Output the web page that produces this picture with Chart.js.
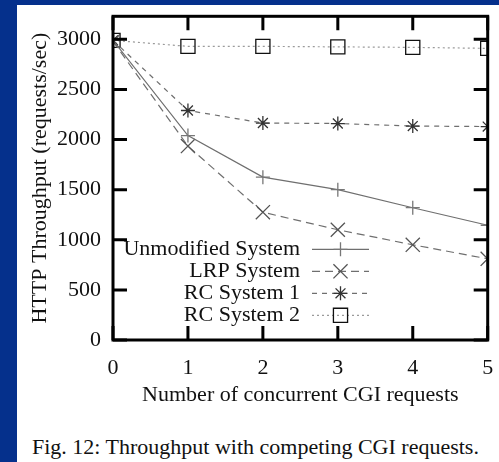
<!DOCTYPE html>
<html>
<head>
<meta charset="utf-8">
<script src="https://cdn.jsdelivr.net/npm/chart.js@4/dist/chart.umd.min.js"></script>
<style>
  body { margin: 0; width: 499px; height: 462px; background: #05308c; overflow: hidden; position: relative; }
  #panel { position: absolute; left: 17px; top: 5px; width: 482px; height: 457px; background: #fff; }
  #caption { position: absolute; left: 15px; top: 429px; font: 22px "Liberation Serif", serif; color: #111; white-space: nowrap; }
</style>
</head>
<body>
<div id="panel">
  <canvas id="chart" width="482" height="403"></canvas>
  <div id="caption">Fig. 12: Throughput with competing CGI requests.</div>
</div>
<script>
const cgiRequests = [0, 1, 2, 3, 4, 5];
const unmodified = [2990, 2040, 1625, 1500, 1320, 1145];
const lrp = [2980, 1935, 1275, 1100, 950, 810];
const rc1 = [2990, 2290, 2165, 2160, 2135, 2130];
const rc2 = [2990, 2930, 2930, 2925, 2920, 2910];
const yTicks = [0, 500, 1000, 1500, 2000, 2500, 3000];
const xTicks = [0, 1, 2, 3, 4, 5];
const seriesNames = ['Unmodified System', 'LRP System', 'RC System 1', 'RC System 2'];

const serif = '"Liberation Serif", "Times New Roman", serif';
const fontSize = 22;

function toPoints(values) {
  return values.map((v, i) => ({ x: cgiRequests[i], y: v }));
}

function makeSet(label, values, style, radius, dash, lineColor, markColor) {
  return {
    label: label,
    data: toPoints(values),
    borderColor: lineColor,
    borderWidth: 1.2,
    borderDash: dash,
    pointStyle: style,
    pointRadius: radius,
    pointBorderColor: markColor,
    pointBackgroundColor: 'transparent',
    pointBorderWidth: 1.3,
    fill: false,
    tension: 0
  };
}

// gnuplot style frame with ticks pointing inward on all four sides
const frameTicks = {
  id: 'frameTicks',
  afterDraw(chart) {
    const { ctx, chartArea: a, scales: { x, y } } = chart;
    const len = 14;
    ctx.save();
    ctx.strokeStyle = '#000';
    ctx.lineWidth = 3;
    ctx.strokeRect(a.left, a.top, a.right - a.left, a.bottom - a.top);
    ctx.beginPath();
    xTicks.forEach(v => {
      const px = x.getPixelForValue(v);
      ctx.moveTo(px, a.bottom); ctx.lineTo(px, a.bottom - len);
      ctx.moveTo(px, a.top); ctx.lineTo(px, a.top + len);
    });
    yTicks.forEach(v => {
      const py = y.getPixelForValue(v);
      ctx.moveTo(a.left, py); ctx.lineTo(a.left + len, py);
      ctx.moveTo(a.right, py); ctx.lineTo(a.right - len, py);
    });
    ctx.stroke();
    ctx.restore();
  }
};

// key with text on the left and line sample on the right
const keyBox = {
  id: 'keyBox',
  afterDraw(chart) {
    const { ctx, chartArea: a } = chart;
    const textRight = a.left + 187;
    const x0 = a.left + 199, x1 = a.left + 256;
    ctx.save();
    ctx.font = fontSize + 'px ' + serif;
    ctx.textAlign = 'right';
    ctx.textBaseline = 'middle';
    chart.data.datasets.forEach((ds, i) => {
      const yy = a.top + 233 + i * 22;
      ctx.fillStyle = '#111';
      ctx.fillText(ds.label, textRight, yy);
      ctx.strokeStyle = ds.borderColor;
      ctx.lineWidth = ds.borderWidth;
      ctx.setLineDash(ds.borderDash);
      ctx.beginPath();
      ctx.moveTo(x0, yy); ctx.lineTo(x1, yy);
      ctx.stroke();
      ctx.setLineDash([]);
      ctx.strokeStyle = ds.pointBorderColor;
      ctx.fillStyle = 'transparent';
      ctx.lineWidth = ds.pointBorderWidth;
      Chart.helpers.drawPoint(ctx, { pointStyle: ds.pointStyle, radius: ds.pointRadius, borderWidth: ds.pointBorderWidth }, (x0 + x1) / 2, yy);
    });
    ctx.restore();
  }
};

new Chart(document.getElementById('chart'), {
  type: 'line',
  data: {
    datasets: [
      makeSet(seriesNames[0], unmodified, 'cross', 7, [], '#6f6f6f', '#777'),
      makeSet(seriesNames[1], lrp, 'crossRot', 10, [8, 5], '#6f6f6f', '#555'),
      makeSet(seriesNames[2], rc1, 'star', 7, [5, 5], '#6f6f6f', '#333'),
      makeSet(seriesNames[3], rc2, 'rect', 10, [2, 3], '#9a9a9a', '#111')
    ]
  },
  options: {
    responsive: false,
    animation: false,
    layout: { padding: { left: 0, right: 5, top: 11, bottom: 0 } },
    plugins: { legend: { display: false }, tooltip: { enabled: false } },
    scales: {
      x: {
        type: 'linear',
        min: 0,
        max: 5,
        afterBuildTicks: s => { s.ticks = xTicks.map(v => ({ value: v })); },
        afterFit: s => { s.paddingLeft = 0; s.paddingRight = 0; s.height = 68; },
        grid: { display: false, drawTicks: false },
        border: { display: false },
        ticks: { color: '#111', font: { family: serif, size: fontSize }, padding: 15, maxRotation: 0 },
        title: { display: true, text: 'Number of concurrent CGI requests', color: '#111', font: { family: serif, size: fontSize }, padding: { top: 2, bottom: 0 } }
      },
      y: {
        min: 0,
        max: 3230,
        afterBuildTicks: s => { s.ticks = yTicks.map(v => ({ value: v })); },
        afterFit: s => { s.width = 96; s.paddingTop = 0; s.paddingBottom = 0; },
        grid: { display: false, drawTicks: false },
        border: { display: false },
        ticks: { color: '#111', font: { family: serif, size: fontSize }, padding: 12, callback: v => String(v) },
        title: { display: true, text: 'HTTP Throughput (requests/sec)', color: '#111', font: { family: serif, size: fontSize }, padding: { top: 10, bottom: 0 } }
      }
    }
  },
  plugins: [frameTicks, keyBox]
});
</script>
</body>
</html>
